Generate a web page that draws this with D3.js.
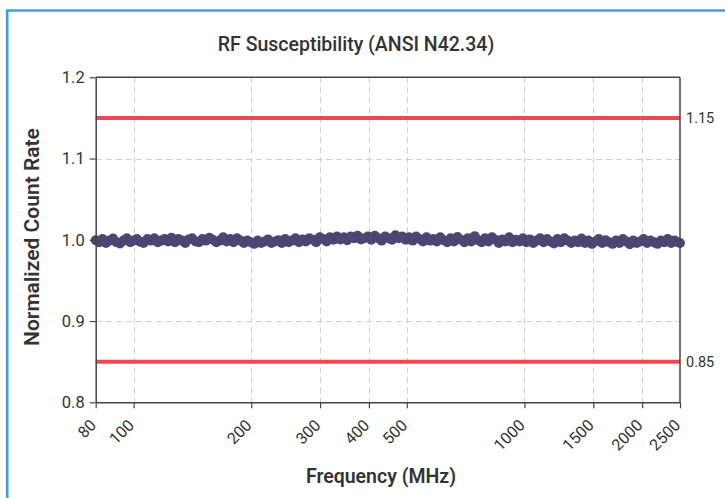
<!DOCTYPE html>
<html><head><meta charset="utf-8">
<script src="https://cdn.jsdelivr.net/npm/d3@7"></script>
<style>
html,body{margin:0;padding:0;background:#fff;}
svg{display:block;font-family:Roboto,"Liberation Sans",Arial,sans-serif;}
</style></head><body>
<svg id="c" width="725" height="498"></svg>
<script>
const title = "RF Susceptibility (ANSI N42.34)";
const xTitle = "Frequency (MHz)";
const yTitle = "Normalized Count Rate";
const xTicks = [80, 100, 200, 300, 400, 500, 1000, 1500, 2000, 2500];
const xGrid = [100, 200, 300, 400, 500, 1000, 1500, 2000];
const yTicks = [0.8, 0.9, 1.0, 1.1, 1.2];
const limits = [1.15, 0.85];
const freq = [80,81.6,83.3,85,86.8,88.6,90.4,92.3,94.2,96.1,98.1,100,102,104,106,108.5,110.7,113,115.3,117.7,
120,122.5,125,127.6,130.2,132.9,135.6,138.4,141.2,144.1,147,150,153,156.3,159.5,162.8,166.1,169.5,173,176.5,
180.2,183.9,187.6,191.5,195.4,199.4,203.5,207.7,212,216.3,220.7,225.3,229.9,234.6,239.4,244.3,249.3,254.4,259.6,265,
270.4,275.9,281.6,287.4,293.3,299.3,305.4,311.7,318,324.6,331.2,338,345,352,359.2,366.6,374.1,381.8,389.6,397.6,
405.8,414.1,422.6,431.2,440.1,449.1,458.3,467.7,477.3,487.1,497,507.2,517.6,528.3,539.1,550.2,561.5,573,584.7,596.7,
608.9,621.4,634.2,647.2,660.5,674,687.8,701.9,716.3,731,746,761.3,776.9,792.9,809.1,825.7,842.6,859.9,877.5,895.5,
913.9,932.6,951.7,971.3,991.2,1011.5,1032.3,1053.4,1075,1097.1,1119.6,1142.6,1166,1190,1214.4,1239.3,1264.7,1290.6,1317.1,1344.1,
1371.7,1399.8,1428.5,1457.8,1487.7,1518.2,1549.4,1581.2,1613.6,1646.7,1680.5,1714.9,1750.1,1786,1822.6,1860,1898.2,1937.1,1976.8,2017.4,
2058.8,2101,2144.1,2188.1,2233,2278.8,2325.5,2373.2,2421.9,2471.6,2500];
const rate = [0.9995,0.997,1.001,0.996,0.999,1.0015,0.997,0.9955,0.999,1.002,0.997,0.999,1.001,0.9975,0.996,1.001,0.999,1.002,0.997,0.999,
1.001,0.998,1.0025,0.997,1.001,0.999,0.996,1.0005,1.002,0.998,0.997,1.001,0.999,1.0025,1.000,0.997,0.999,1.003,0.998,1.001,
0.997,1.002,0.999,0.996,0.999,0.997,0.995,0.999,0.996,0.998,1.0005,0.996,0.998,0.9995,0.996,1.001,0.997,0.999,1.002,0.997,
1.0005,0.998,1.002,1.000,0.997,1.003,1.001,0.998,1.003,1.000,1.004,1.0005,1.003,0.9995,1.004,1.002,1.005,1.0005,1.002,1.004,
1.000,1.005,1.002,0.999,1.004,1.002,1.000,1.0055,1.002,1.004,1.000,1.003,0.999,1.004,1.001,0.998,1.003,0.999,1.001,0.998,
1.003,0.9995,0.997,1.002,0.998,1.0035,1.000,0.997,1.002,0.998,1.0045,0.9995,0.997,1.002,0.998,1.003,1.000,0.996,1.0005,0.998,
1.003,0.997,1.000,0.998,1.002,0.997,1.0005,0.996,0.999,1.002,0.997,1.001,0.998,0.9955,1.001,0.997,1.002,0.999,0.996,0.999,
0.997,1.0015,0.996,0.999,0.995,0.998,1.001,0.996,0.9995,0.997,0.995,0.999,0.996,1.001,0.998,0.9945,0.999,0.996,0.998,1.001,
0.996,0.999,0.997,0.995,0.999,0.997,1.001,0.996,0.999,0.997,0.996];

const W = 725, H = 498;
const m = {left: 95.7, right: 680, top: 77.3, bottom: 402.3};
const svg = d3.select("#c");

// frame
svg.append("path").attr("d", `M7.2,${H+5} L7.2,10.5 L${W+5},10.5`)
  .attr("fill","none").attr("stroke","#3ba2dd").attr("stroke-width",2.6);

const x = d3.scaleLog().domain([80, 2500]).range([m.left, m.right]);
const y = d3.scaleLinear().domain([0.8, 1.2]).range([m.bottom, m.top]);

// grid
const grid = svg.append("g").attr("stroke","#cfcfcf").attr("stroke-width",1).attr("stroke-dasharray","6,4");
grid.selectAll("line.v").data(xGrid).join("line")
  .attr("x1", d => Math.round(x(d))+0.5).attr("x2", d => Math.round(x(d))+0.5)
  .attr("y1", m.top).attr("y2", m.bottom);
grid.selectAll("line.h").data([0.9,1.0,1.1]).join("line")
  .attr("x1", m.left).attr("x2", m.right)
  .attr("y1", d => Math.round(y(d))+0.5).attr("y2", d => Math.round(y(d))+0.5);

// limit lines
svg.append("g").selectAll("line").data(limits).join("line")
  .attr("x1", m.left).attr("x2", m.right)
  .attr("y1", d => y(d)).attr("y2", d => y(d))
  .attr("stroke","#ec4a52").attr("stroke-width",4);
svg.append("g").selectAll("text").data(limits).join("text")
  .attr("x", m.right + 6).attr("y", d => y(d)).attr("dy","0.35em")
  .attr("font-size",14.5).attr("fill","#333").text(d => d.toFixed(2));

// data points
svg.append("g").selectAll("circle").data(freq).join("circle")
  .attr("cx", d => x(d)).attr("cy", (d,i) => y(rate[i]))
  .attr("r", 5).attr("fill","#4b4672");

// axes
const axisColor = "#444";
const gx = svg.append("g").attr("transform",`translate(0,${m.bottom})`)
  .call(d3.axisBottom(x).tickValues(xTicks).tickFormat(d3.format("d")).tickSize(6).tickSizeOuter(0));
gx.select(".domain").attr("stroke",axisColor).attr("stroke-width",1.5);
gx.selectAll(".tick line").attr("stroke",axisColor).attr("stroke-width",1.2);
gx.selectAll(".tick text").attr("font-size",16).attr("fill","#333").attr("font-family","Roboto,sans-serif")
  .attr("text-anchor","end").attr("x",0).attr("y",0).attr("dy","0.35em")
  .attr("transform","translate(-3,20) rotate(-45)");

const gy = svg.append("g").attr("transform",`translate(${m.left},0)`)
  .call(d3.axisLeft(y).tickValues(yTicks).tickFormat(d3.format(".1f")).tickSize(6).tickSizeOuter(0));
gy.select(".domain").attr("stroke",axisColor).attr("stroke-width",1.5);
gy.selectAll(".tick line").attr("stroke",axisColor).attr("stroke-width",1.2);
gy.selectAll(".tick text").attr("font-size",16.5).attr("fill","#333").attr("font-family","Roboto,sans-serif").attr("x",-11);

// top & right border
svg.append("line").attr("x1",m.left).attr("x2",m.right).attr("y1",m.top).attr("y2",m.top)
  .attr("stroke",axisColor).attr("stroke-width",1.5);
svg.append("line").attr("x1",m.right).attr("x2",m.right).attr("y1",m.top).attr("y2",m.bottom)
  .attr("stroke",axisColor).attr("stroke-width",1.5);

// titles
svg.append("text").attr("x",356).attr("y",51).attr("text-anchor","middle")
  .attr("font-size",19.5).attr("font-weight",500).attr("fill","#333").text(title);
svg.append("text").attr("x",381).attr("y",483).attr("text-anchor","middle")
  .attr("font-size",19.5).attr("font-weight",600).attr("fill","#333").text(xTitle);
svg.append("text").attr("transform","translate(39,237) rotate(-90)").attr("text-anchor","middle")
  .attr("font-size",21).attr("font-weight",600).attr("fill","#333").text(yTitle);
</script>
</body></html>
